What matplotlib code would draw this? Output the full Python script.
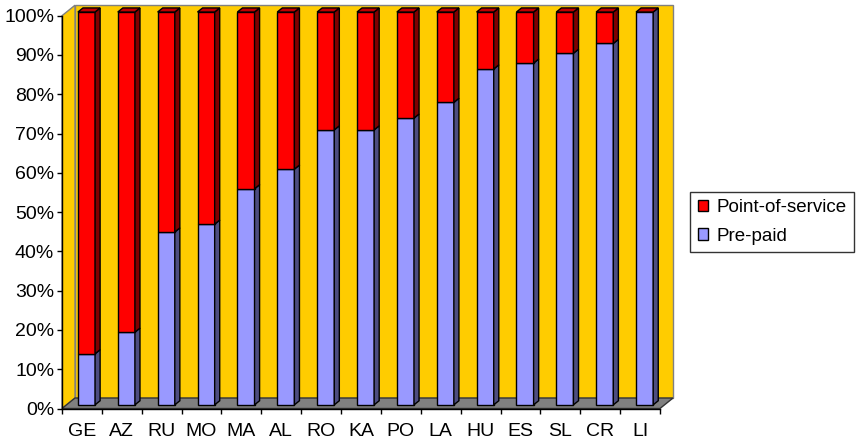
import matplotlib
matplotlib.use("Agg")
import matplotlib.pyplot as plt
from matplotlib.patches import Patch, Polygon

plt.rcParams["font.family"] = ["Liberation Sans", "DejaVu Sans"]

countries = ["GE", "AZ", "RU", "MO", "MA", "AL", "RO", "KA", "PO", "LA",
             "HU", "ES", "SL", "CR", "LI"]
pre_paid = [13, 18.5, 44, 46, 55, 60, 70, 70, 73, 77, 85.5, 87, 89.5, 92, 100]
point_of_service = [100 - v for v in pre_paid]

series = [
    ("Pre-paid", pre_paid, "#9999FF", "#4D4D80", "#7777CC"),
    ("Point-of-service", point_of_service, "#FF0000", "#800000", "#C00000"),
]

# fake 3-D: depth of the plot box in data units, bar slab depth fractions
DX, DY = 0.326, 2.67
F0, F1 = 0.35, 0.74
BAR_W = 0.43

W, H = 856, 443
fig = plt.figure(figsize=(W / 100, H / 100), dpi=100)
ax = fig.add_axes([62 / W, (H - 408.5) / H, 598 / W, 392.8 / H])
ax.set_xlim(0, len(countries))
ax.set_ylim(0, 100)
ax.patch.set_visible(False)

n = len(countries)
wall = "#FFCC00"
ax.add_patch(Polygon([(DX, DY), (n + DX, DY), (n + DX, 100 + DY), (DX, 100 + DY)],
                     closed=True, fc=wall, ec="#808080", lw=1, clip_on=False, zorder=0.5))
ax.add_patch(Polygon([(0, 0), (DX, DY), (DX, 100 + DY), (0, 100)],
                     closed=True, fc=wall, ec="#808080", lw=1, clip_on=False, zorder=0.5))
ax.add_patch(Polygon([(0, 0), (n, 0), (n + DX, DY), (DX, DY)],
                     closed=True, fc="#808080", ec="#333333", lw=1, clip_on=False, zorder=0.6))


def face(pts, color):
    ax.add_patch(Polygon(pts, closed=True, fc=color, ec="black", lw=1,
                         clip_on=False, zorder=2))


ox, oy = F0 * DX, F0 * DY
sx, sy = (F1 - F0) * DX, (F1 - F0) * DY
for i in range(n):
    xl = i + 0.5 - BAR_W / 2 + ox
    xr = xl + BAR_W
    base = oy
    for name, vals, front, side, top in series:
        h = vals[i]
        if h > 0:
            face([(xl, base), (xr, base), (xr, base + h), (xl, base + h)], front)
            face([(xr, base), (xr + sx, base + sy), (xr + sx, base + h + sy), (xr, base + h)], side)
        base += h
    # cap takes the colour of the last series in the stack
    cap = series[-1][4]
    face([(xl, base), (xr, base), (xr + sx, base + sy), (xl + sx, base + sy)], cap)

for s in ["top", "right"]:
    ax.spines[s].set_visible(False)
for s in ["left", "bottom"]:
    ax.spines[s].set_color("black")
    ax.spines[s].set_linewidth(1)
    ax.spines[s].set_zorder(3)

ax.set_yticks(range(0, 101, 10))
ax.set_yticklabels([f"{v}%" for v in range(0, 101, 10)])
ax.tick_params(axis="y", length=3.6, width=1, pad=2, labelsize=14)

ax.set_xticks(range(0, n + 1))
ax.set_xticklabels([])
ax.set_xticks([i + 0.5 for i in range(n)], minor=True)
ax.set_xticklabels(countries, minor=True)
ax.tick_params(axis="x", which="major", length=3.6, width=1)
ax.tick_params(axis="x", which="minor", length=0, pad=10.5, labelsize=14)

handles = [Patch(fc=c, ec="black", lw=1, label=nm)
           for nm, _, c, _, _ in reversed(series)]
leg = fig.legend(handles=handles, loc="center left",
                 bbox_to_anchor=(690 / W, 1 - 222 / H), fontsize=13.5,
                 frameon=True, fancybox=False, edgecolor="black",
                 handlelength=0.55, handleheight=0.55, handletextpad=0.45,
                 borderpad=0.4, labelspacing=0.6, borderaxespad=0)
leg.get_frame().set_linewidth(1)

fig.savefig("out.png", dpi=100)
